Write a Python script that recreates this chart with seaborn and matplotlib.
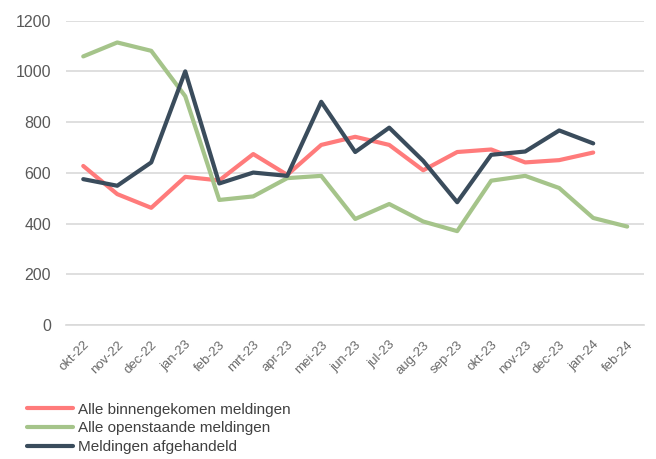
import matplotlib.pyplot as plt
import pandas as pd
import seaborn as sns

months = ["okt-22", "nov-22", "dec-22", "jan-23", "feb-23", "mrt-23", "apr-23",
          "mei-23", "jun-23", "jul-23", "aug-23", "sep-23", "okt-23", "nov-23",
          "dec-23", "jan-24", "feb-24"]

binnengekomen = [627, 516, 462, 584, 570, 674, 592, 710, 742, 710, 610, 682,
                 692, 641, 650, 680, None]
openstaand = [1059, 1114, 1081, 902, 493, 507, 579, 588, 418, 477, 408, 370,
              569, 588, 540, 422, 388]
afgehandeld = [575, 549, 641, 1000, 558, 601, 588, 880, 682, 778, 647, 484,
               671, 684, 767, 716, None]

series_names = ["Alle binnengekomen meldingen", "Alle openstaande meldingen",
                "Meldingen afgehandeld"]
colors = ["#FF7B7B", "#A5C48A", "#3A4C5C"]

df = pd.DataFrame({
    "Maand": months * 3,
    "Aantal": binnengekomen + openstaand + afgehandeld,
    "Reeks": [series_names[0]] * 17 + [series_names[1]] * 17 + [series_names[2]] * 17,
})
df["pos"] = list(range(17)) * 3
df = df.dropna()

sns.set_style("white")
plt.rcParams["font.family"] = ["Liberation Sans", "DejaVu Sans"]

fig = plt.figure(figsize=(6.56, 4.59), dpi=100)
ax = fig.add_axes([0.101, 0.292, 0.881, 0.663])

sns.lineplot(data=df, x="pos", y="Aantal", hue="Reeks", hue_order=series_names,
             palette=colors, linewidth=3, ax=ax, legend=True, sort=False)

ax.set_xlim(-0.5, 16.5)
ax.set_ylim(0, 1200)
ax.set_yticks(range(0, 1201, 200))
ax.yaxis.grid(True, color="#D9D9D9", linewidth=1.2)
ax.set_axisbelow(True)
ax.set_xticks(range(17))
ax.set_xticklabels(months, rotation=45, ha="right", rotation_mode="anchor",
                   fontsize=9.5, color="#6A6A6A")
ax.set_xticks([i - 0.5 for i in range(18)], minor=True)
ax.tick_params(axis="x", which="major", length=0, pad=10)
ax.tick_params(axis="x", which="minor", length=5, color="#D9D9D9", width=1)
ax.tick_params(axis="y", length=0, labelsize=11.5, labelcolor="#595959", pad=11)
ax.set_xlabel("")
ax.set_ylabel("")
for side in ["top", "right", "left"]:
    ax.spines[side].set_visible(False)
ax.spines["bottom"].set_color("#D9D9D9")
ax.spines["bottom"].set_linewidth(1.2)

ax.legend(loc="upper left", bbox_to_anchor=(-0.079, -0.235), frameon=False,
          fontsize=11, labelcolor="#404040", handlelength=3.0,
          handletextpad=0.33, labelspacing=0.31, borderaxespad=0)

fig.savefig("out.png", dpi=100)
